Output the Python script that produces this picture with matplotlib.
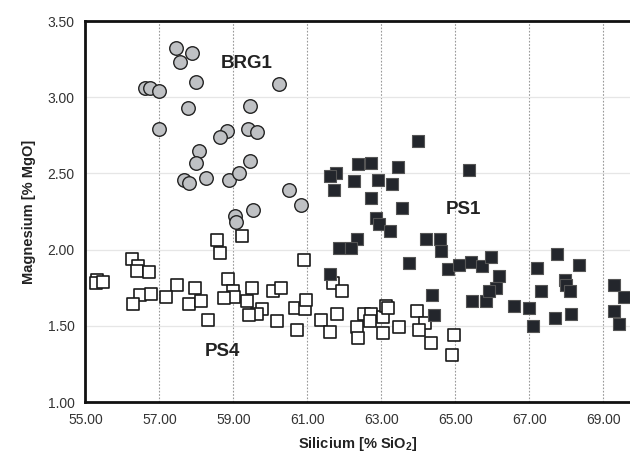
import matplotlib
matplotlib.use("Agg")
import matplotlib.pyplot as plt

plt.rcParams['font.family'] = ['Liberation Sans', 'DejaVu Sans']

# BRG1 - grey circles
brg1_x = [57.46, 57.87, 57.55, 57.99, 60.23, 56.62, 56.74, 56.99, 59.46, 57.77,
          56.98, 58.82, 58.63, 59.40, 59.63, 58.08, 57.98, 59.45, 57.65, 57.79,
          58.26, 58.87, 59.16, 60.50, 60.83, 59.54, 59.04, 59.08]
brg1_y = [3.32, 3.29, 3.23, 3.10, 3.09, 3.06, 3.06, 3.04, 2.94, 2.93,
          2.79, 2.78, 2.74, 2.79, 2.77, 2.65, 2.57, 2.58, 2.46, 2.44,
          2.47, 2.46, 2.50, 2.39, 2.29, 2.26, 2.22, 2.18]

# PS1 - filled squares
ps1_x = [63.99, 65.36, 62.36, 62.73, 63.44, 61.78, 61.60, 62.26, 62.91, 63.28,
         61.71, 62.73, 63.56, 62.86, 62.94, 63.22, 62.33, 61.86, 62.19, 64.21,
         64.58, 64.60, 63.74, 64.80, 65.09, 65.43, 65.72, 65.95, 61.62, 64.36,
         64.41, 65.45, 65.84, 66.17, 66.09, 65.91, 66.58, 66.99, 67.11, 67.75,
         67.21, 68.34, 67.96, 68.00, 68.09, 67.31, 67.68, 68.12, 69.30, 69.55,
         69.28, 69.42]
ps1_y = [2.71, 2.52, 2.56, 2.57, 2.54, 2.50, 2.48, 2.45, 2.46, 2.43,
         2.39, 2.34, 2.27, 2.21, 2.17, 2.12, 2.07, 2.01, 2.01, 2.07,
         2.07, 1.99, 1.91, 1.87, 1.90, 1.92, 1.89, 1.95, 1.84, 1.70,
         1.57, 1.66, 1.66, 1.83, 1.75, 1.73, 1.63, 1.62, 1.50, 1.97,
         1.88, 1.90, 1.80, 1.77, 1.73, 1.73, 1.55, 1.58, 1.77, 1.69,
         1.60, 1.51]

# PS4 - open squares
ps4_x = [58.55, 59.22, 58.63, 56.27, 56.41, 56.40, 56.72, 55.30, 55.28, 55.48,
         58.84, 57.48, 57.95, 58.99, 59.02, 59.51, 60.08, 60.28, 56.47, 56.77,
         56.29, 57.18, 57.80, 58.13, 58.74, 59.36, 59.77, 59.63, 59.41, 58.30,
         60.18, 60.67, 60.94, 60.95, 60.72, 60.91, 61.68, 61.93, 61.38, 61.79,
         61.62, 62.35, 62.38, 62.53, 62.72, 62.69, 63.03, 63.03, 63.12, 63.19,
         63.48, 63.97, 64.17, 64.02, 64.33, 64.97, 64.91]
ps4_y = [2.06, 2.09, 1.98, 1.94, 1.89, 1.86, 1.85, 1.80, 1.78, 1.79,
         1.81, 1.77, 1.75, 1.73, 1.69, 1.75, 1.73, 1.75, 1.70, 1.71,
         1.64, 1.69, 1.64, 1.66, 1.68, 1.66, 1.61, 1.58, 1.57, 1.54,
         1.53, 1.62, 1.61, 1.67, 1.47, 1.93, 1.78, 1.73, 1.54, 1.58,
         1.46, 1.49, 1.42, 1.58, 1.58, 1.53, 1.56, 1.45, 1.63, 1.62,
         1.49, 1.60, 1.52, 1.47, 1.39, 1.44, 1.31]

x_ticks = [55, 57, 59, 61, 63, 65, 67, 69]
y_ticks = [1.0, 1.5, 2.0, 2.5, 3.0, 3.5]

fig = plt.figure(figsize=(6.3, 4.54), dpi=100)
ax = fig.add_axes([0.1357, 0.1145, 0.8643, 0.8392])

ax.scatter(ps4_x, ps4_y, marker='s', s=80, facecolor='white', edgecolor='#1a1a1a',
           linewidth=1.2, zorder=3)
ax.scatter(ps1_x, ps1_y, marker='s', s=80, facecolor='#23262c', edgecolor='#555555',
           linewidth=0.8, zorder=4)
ax.scatter(brg1_x, brg1_y, marker='o', s=95, facecolor='#bfc1c4', edgecolor='#222222',
           linewidth=1.0, zorder=5)

ax.text(59.35, 3.22, 'BRG1', fontsize=13.5, fontweight='bold', color='#222222',
        ha='center', va='center', zorder=6)
ax.text(65.22, 2.26, 'PS1', fontsize=13.5, fontweight='bold', color='#222222',
        ha='center', va='center', zorder=6)
ax.text(58.71, 1.33, 'PS4', fontsize=13.5, fontweight='bold', color='#222222',
        ha='center', va='center', zorder=6)

ax.set_xlim(55, 69.72)
ax.set_ylim(1.0, 3.5)
ax.set_xticks(x_ticks)
ax.set_yticks(y_ticks)
ax.set_xticklabels(['%.2f' % v for v in x_ticks])
ax.set_yticklabels(['%.2f' % v for v in y_ticks])
ax.tick_params(length=0, labelsize=10, colors='#333333', pad=8)

ax.xaxis.grid(True, linestyle=(0, (1.5, 1.5)), color='#999999', linewidth=0.8)
ax.yaxis.grid(True, linestyle='-', color='#e6e6e6', linewidth=0.9)
ax.set_axisbelow(True)

for side in ['left', 'bottom', 'top']:
    ax.spines[side].set_linewidth(2.0)
    ax.spines[side].set_color('#111111')
ax.spines['right'].set_visible(False)

ax.set_xlabel('Silicium [% SiO$_\\mathregular{2}$]', fontsize=10.5, fontweight='bold',
              color='#222222', labelpad=6)
ax.set_ylabel('Magnesium [% MgO]', fontsize=10.5, fontweight='bold',
              color='#222222', labelpad=8)

fig.savefig('out.png', dpi=100)
